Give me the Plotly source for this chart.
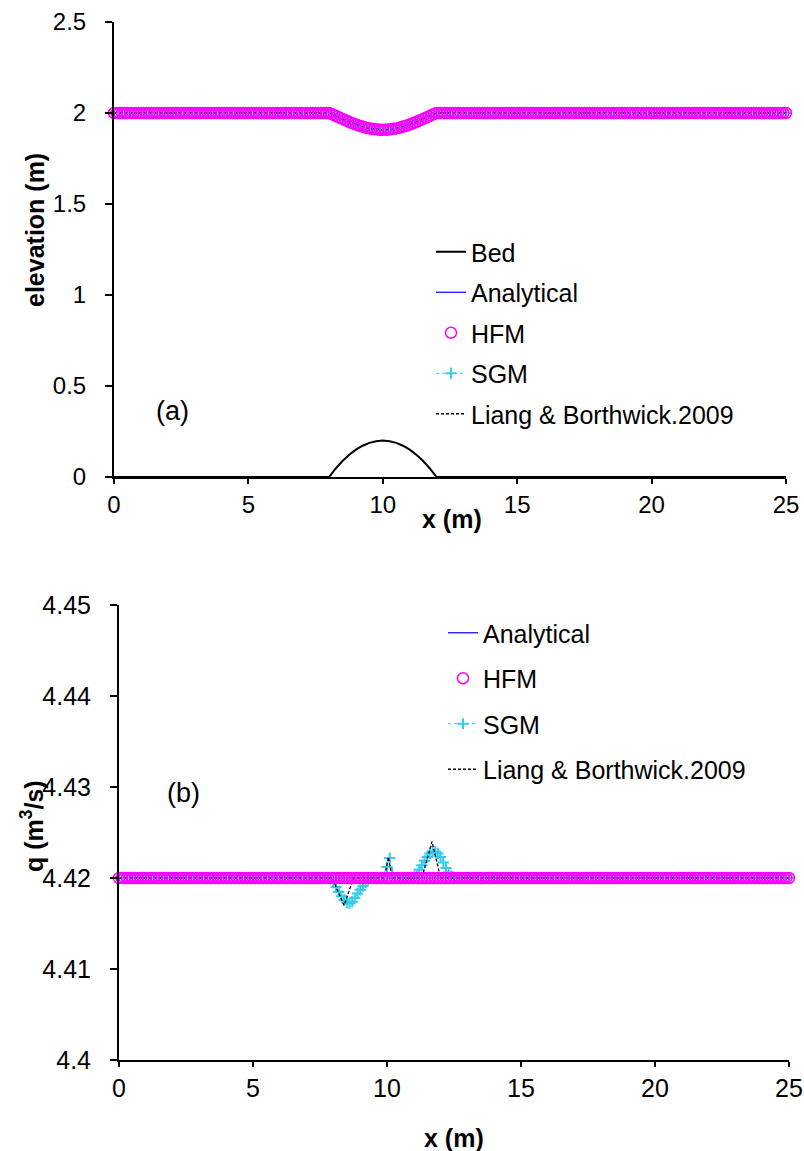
import numpy as np
import plotly.graph_objects as go

W, H = 804, 1151
def px(x): return x / W
def py(y): return 1 - y / H

# ---------------- data ----------------
x_grid = [round(0.1 * i, 1) for i in range(251)]          # 0 .. 25 m, step 0.1

bed_x = [0, 8, 8.25, 8.5, 8.75, 9, 9.25, 9.5, 9.75, 10, 10.25, 10.5, 10.75, 11, 11.25, 11.5, 11.75, 12, 25]
bed_z = [0, 0, 0.0469, 0.0875, 0.1219, 0.15, 0.1719, 0.1875, 0.1969, 0.2,
         0.1969, 0.1875, 0.1719, 0.15, 0.1219, 0.0875, 0.0469, 0, 0]

# free surface over the bump, x = 8.0 .. 12.0 (step 0.1)
surf_bump = [2.0, 1.994, 1.987, 1.9805, 1.974, 1.9675, 1.961, 1.9545, 1.948, 1.9425,
             1.937, 1.9315, 1.927, 1.9225, 1.918, 1.9155, 1.913, 1.911, 1.909, 1.908,
             1.908, 1.908, 1.909, 1.911, 1.913, 1.9155, 1.918, 1.9225, 1.927, 1.9315,
             1.937, 1.9425, 1.948, 1.9545, 1.961, 1.9675, 1.974, 1.9805, 1.987, 1.994, 2.0]
surface = [2.0] * 80 + surf_bump + [2.0] * 130

q_const = [4.42] * 251

# SGM discharge, x = 7.8 .. 12.6 (step 0.1)
sgm_q_bump = [4.42, 4.4199, 4.4195, 4.4190, 4.4185, 4.4180, 4.4176, 4.4173, 4.4172, 4.4174,
              4.4178, 4.4183, 4.4187, 4.4191, 4.4195, 4.4198, 4.42, 4.42, 4.42, 4.42,
              4.42, 4.4201, 4.4212, 4.4222, 4.4205, 4.42, 4.42, 4.42, 4.42, 4.42,
              4.42, 4.42, 4.4201, 4.4204, 4.4209, 4.4214, 4.4219, 4.4223, 4.4227, 4.4229,
              4.4229, 4.4227, 4.4223, 4.4217, 4.4211, 4.4206, 4.4202, 4.42, 4.42]
sgm_q = [4.42] * 78 + sgm_q_bump + [4.42] * 124

lb_x = [0, 7.95, 8.4, 8.75, 9.9, 10.05, 10.2, 11.3, 11.68, 12.0, 25]
lb_q = [4.42, 4.42, 4.417, 4.42, 4.42, 4.4223, 4.42, 4.42, 4.424, 4.42, 4.42]

x_ticks = [0, 5, 10, 15, 20, 25]
elev_ticks = [0, 0.5, 1, 1.5, 2, 2.5]
q_ticks = [4.40, 4.41, 4.42, 4.43, 4.44, 4.45]
q_ticktext = ["4.4", "4.41", "4.42", "4.43", "4.44", "4.45"]

# ---------------- style ----------------
FONT = "Liberation Sans, Arial, sans-serif"
MAG = "#FF00FF"
CYAN = "#33CCEE"
BLUE = "#0000FF"

fig = go.Figure()

def add_set(xa, ya, legend, with_bed, y_an, y_hfm, y_sgm, lbx, lby):
    if with_bed:
        fig.add_trace(go.Scatter(x=bed_x, y=bed_z, mode="lines", name="Bed",
                                 line=dict(color="black", width=2), legendrank=1,
                                 xaxis=xa, yaxis=ya, legend=legend, legendgroup=legend + "bed"))
    fig.add_trace(go.Scatter(x=x_grid, y=y_an, mode="lines", name="Analytical",
                             line=dict(color=BLUE, width=1.2), legendrank=2,
                             xaxis=xa, yaxis=ya, legend=legend, legendgroup=legend + "an"))
    fig.add_trace(go.Scatter(x=x_grid, y=y_sgm, mode="lines+markers", name="SGM",
                             line=dict(color=CYAN, width=1, dash="dot"),
                             marker=dict(symbol="cross-thin", size=8, color=CYAN,
                                         line=dict(color=CYAN, width=2)),
                             cliponaxis=False, legendrank=4,
                             xaxis=xa, yaxis=ya, legend=legend, legendgroup=legend + "sgm"))
    fig.add_trace(go.Scatter(x=lbx, y=lby, mode="lines", name="Liang & Borthwick.2009",
                             line=dict(color="black", width=1.3, dash="3px,2px"), legendrank=5,
                             xaxis=xa, yaxis=ya, legend=legend, legendgroup=legend + "lb"))
    fig.add_trace(go.Scatter(x=x_grid, y=y_hfm, mode="markers", name="HFM",
                             marker=dict(symbol="circle-open", size=11, color=MAG,
                                         line=dict(color=MAG, width=1.5)),
                             cliponaxis=False, legendrank=3,
                             xaxis=xa, yaxis=ya, legend=legend, legendgroup=legend + "hfm"))

add_set("x", "y", "legend", True, surface, surface, surface, x_grid, surface)
add_set("x2", "y2", "legend2", False, q_const, q_const, sgm_q, lb_x, lb_q)

axis_common = dict(showline=True, linecolor="black", linewidth=2, showgrid=False,
                   zeroline=False, ticks="outside", tickwidth=1.5, automargin=False,
                   tickcolor="black", mirror=False)

fig.update_layout(
    width=W, height=H, margin=dict(l=0, r=0, t=0, b=0, autoexpand=False),
    paper_bgcolor="white", plot_bgcolor="white",
    font=dict(family=FONT, color="black"),
    xaxis=dict(domain=[px(114), px(786)], range=[0, 25], tickvals=x_ticks, anchor="y",
               ticklen=5, tickfont=dict(size=24), **axis_common),
    yaxis=dict(domain=[py(477), py(22)], range=[0, 2.5], tickvals=elev_ticks, anchor="x",
               ticklen=7, tickfont=dict(size=24), ticklabelstandoff=14, **axis_common),
    xaxis2=dict(domain=[px(119), px(789)], range=[0, 25], tickvals=x_ticks, anchor="y2",
                ticklen=5, tickfont=dict(size=25), **axis_common),
    yaxis2=dict(domain=[py(1060), py(605)], range=[4.40, 4.45], tickvals=q_ticks,
                ticktext=q_ticktext, anchor="x2",
                ticklen=7, tickfont=dict(size=25), ticklabelstandoff=14, **axis_common),
    legend=dict(x=px(431), y=py(229), xanchor="left", yanchor="top",
                font=dict(size=25), bgcolor="rgba(0,0,0,0)", tracegroupgap=5,
                itemwidth=30),
    legend2=dict(x=px(443), y=py(610), xanchor="left", yanchor="top",
                 font=dict(size=25), bgcolor="rgba(0,0,0,0)", tracegroupgap=10,
                 itemwidth=30),
    annotations=[
        dict(text="<b>elevation (m)</b>", x=px(35), y=py(230), xref="paper", yref="paper",
             xanchor="center", yanchor="middle",
             textangle=-90, showarrow=False, font=dict(size=25)),
        dict(text="<b>x (m)</b>", x=px(452), y=py(519), xref="paper", yref="paper",
             xanchor="center", yanchor="middle", showarrow=False, font=dict(size=25)),
        dict(text="<b>q (m<sup>3</sup>/s)</b>", x=px(32), y=py(826), xref="paper", yref="paper",
             xanchor="center", yanchor="middle",
             textangle=-90, showarrow=False, font=dict(size=25)),
        dict(text="<b>x (m)</b>", x=px(454), y=py(1138), xref="paper", yref="paper",
             xanchor="center", yanchor="middle", showarrow=False, font=dict(size=25)),
        dict(text="(a)", x=px(172), y=py(411), xref="paper", yref="paper",
             xanchor="center", yanchor="middle", showarrow=False, font=dict(size=27)),
        dict(text="(b)", x=px(183), y=py(793), xref="paper", yref="paper",
             xanchor="center", yanchor="middle", showarrow=False, font=dict(size=27)),
    ],
)

fig.write_html("out.html")
